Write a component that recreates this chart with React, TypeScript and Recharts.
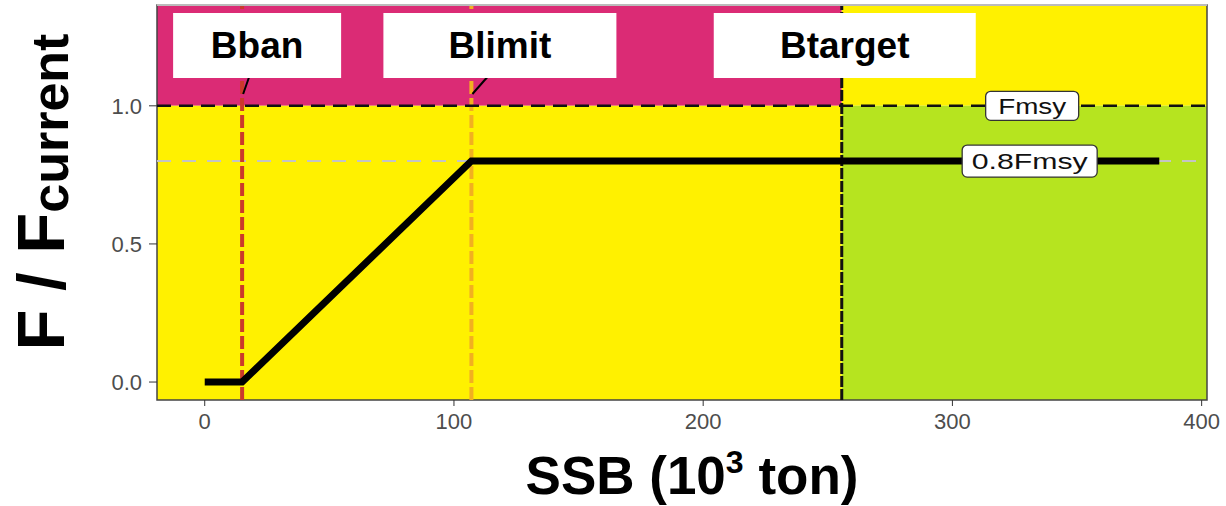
import {
  ComposedChart,
  Line,
  XAxis,
  YAxis,
  ReferenceArea,
  ReferenceLine,
  ReferenceDot,
} from 'recharts';

// harvest control rule (SSB in 10^3 ton, F / Fcurrent)
const hcrSsb = [0, 15, 107, 383];
const hcrF = [0, 0, 0.8, 0.8];

// reference points on SSB
const refNames = ['Bban', 'Blimit', 'Btarget'];
const refSsb = [15, 107, 255.6];

// F levels
const fmsy = 1.0;
const fTarget = 0.8;
const fLabels = ['Fmsy', '0.8Fmsy'];
const fLabelSsb = [332, 331];

const xTicks = [0, 100, 200, 300, 400];
const yTicks = [0, 0.5, 1.0];

const xMin = -19.15;
const xMax = 402.15;
const yMin = -0.065;
const yMax = 1.365;

const hcrData = hcrSsb.map((ssb, i) => ({ ssb, f: hcrF[i] }));

const FONT = 'Liberation Sans, Arial, sans-serif';

// style per reference point (colour, box offset/width, leader offset)
const refStyle = [
  { color: '#CB3A2B', width: 4, dash: '13 4', boxDx: 15, boxW: 168, lead: 7 },
  { color: '#F2B020', width: 4, dash: '13 4', boxDx: 28.5, boxW: 233, lead: 16 },
  { color: '#111111', width: 3, dash: '11 2', boxDx: 3, boxW: 262, lead: null },
];

function refLabel(name: string, s: any) {
  return (props: any) => {
    const vb = props.viewBox || {};
    const x = vb.x;
    const y = vb.y;
    const cx = x + s.boxDx;
    return (
      <g>
        {s.lead !== null && (
          <line x1={x + s.lead} y1={y + 72} x2={x + 1} y2={y + 89} stroke="#000" strokeWidth={2} />
        )}
        <rect x={cx - s.boxW / 2} y={y + 8} width={s.boxW} height={65} fill="#fff" />
        <text x={cx} y={y + 53} textAnchor="middle" fontFamily={FONT} fontWeight="bold" fontSize={37} fill="#000">
          {name}
        </text>
      </g>
    );
  };
}

function fBox(text: string, w: number, h: number, tw: number) {
  return (props: any) => {
    const { cx, cy } = props;
    return (
      <g>
        <rect x={cx - w / 2} y={cy - h / 2} width={w} height={h} rx={5} ry={5} fill="#fff" stroke="#333" strokeWidth={1.3} />
        <text
          x={cx}
          y={cy + 8}
          textAnchor="middle"
          fontFamily={FONT}
          fontSize={22}
          fill="#111"
          textLength={tw}
          lengthAdjust="spacingAndGlyphs"
        >
          {text}
        </text>
      </g>
    );
  };
}

const YTitle = () => (
  <text
    x={64}
    y={192}
    transform="rotate(-90, 64, 192)"
    textAnchor="middle"
    fontFamily={FONT}
    fontWeight="bold"
    fill="#000"
  >
    <tspan fontSize={67}>F / F</tspan>
    <tspan fontSize={52} dy={4}>current</tspan>
  </text>
);

const XTitle = () => (
  <text x={692} y={494} textAnchor="middle" fontFamily={FONT} fontWeight="bold" fill="#000" fontSize={53}>
    <tspan>SSB (10</tspan>
    <tspan fontSize={32} dy={-21}>3</tspan>
    <tspan dy={21}> ton)</tspan>
  </text>
);

export default function App() {
  return (
    <div style={{ position: 'absolute', left: 0, top: 0, background: '#fff' }}>
      <ComposedChart width={1226} height={506} data={hcrData} margin={{ top: 5, right: 19, bottom: 0, left: 0 }}>
        <XAxis
          type="number"
          dataKey="ssb"
          domain={[xMin, xMax]}
          ticks={xTicks}
          allowDataOverflow
          height={106}
          axisLine={false}
          tickSize={6}
          tickMargin={7}
          tickLine={{ stroke: '#333' }}
          tick={{ fill: '#4D4D4D', fontSize: 22, fontFamily: FONT }}
          label={() => <XTitle />}
        />
        <YAxis
          type="number"
          dataKey="f"
          domain={[yMin, yMax]}
          ticks={yTicks}
          allowDataOverflow
          width={157}
          axisLine={false}
          tickSize={8}
          tickMargin={7}
          tickLine={{ stroke: '#333' }}
          tick={{ fill: '#4D4D4D', fontSize: 22, fontFamily: FONT }}
          tickFormatter={(v: number) => v.toFixed(1)}
          label={() => <YTitle />}
        />

        {/* zones */}
        <ReferenceArea x1={xMin} x2={refSsb[2]} y1={fmsy} y2={yMax} fill="#DB2B75" fillOpacity={1} stroke="none" />
        <ReferenceArea x1={xMin} x2={refSsb[2]} y1={yMin} y2={fmsy} fill="#FFF100" fillOpacity={1} stroke="none" />
        <ReferenceArea x1={refSsb[2]} x2={xMax} y1={fmsy} y2={yMax} fill="#FFF100" fillOpacity={1} stroke="none" />
        <ReferenceArea x1={refSsb[2]} x2={xMax} y1={yMin} y2={fmsy} fill="#B6E41F" fillOpacity={1} stroke="none" />

        <ReferenceLine y={fTarget} stroke="#C4C4C4" strokeWidth={2} strokeDasharray="14 11" />

        {refNames.map((name, i) => (
          <ReferenceLine
            key={name}
            x={refSsb[i]}
            stroke={refStyle[i].color}
            strokeWidth={refStyle[i].width}
            strokeDasharray={refStyle[i].dash}
            label={refLabel(name, refStyle[i])}
          />
        ))}

        <ReferenceLine y={fmsy} stroke="#111" strokeWidth={2.5} strokeDasharray="14 8" />

        <ReferenceArea x1={xMin} x2={xMax} y1={yMin} y2={yMax} fill="none" stroke="#444" strokeWidth={1.5} />
        <ReferenceLine y={yMax} stroke="#BBBBBB" strokeWidth={2} />

        <Line
          type="linear"
          dataKey="f"
          stroke="#000"
          strokeWidth={7}
          dot={false}
          activeDot={false}
          isAnimationActive={false}
        />

        <ReferenceDot x={fLabelSsb[0]} y={fmsy} r={1} shape={fBox(fLabels[0], 93, 29, 68)} />
        <ReferenceDot x={fLabelSsb[1]} y={fTarget} r={1} shape={fBox(fLabels[1], 135, 32, 116)} />
      </ComposedChart>
    </div>
  );
}
